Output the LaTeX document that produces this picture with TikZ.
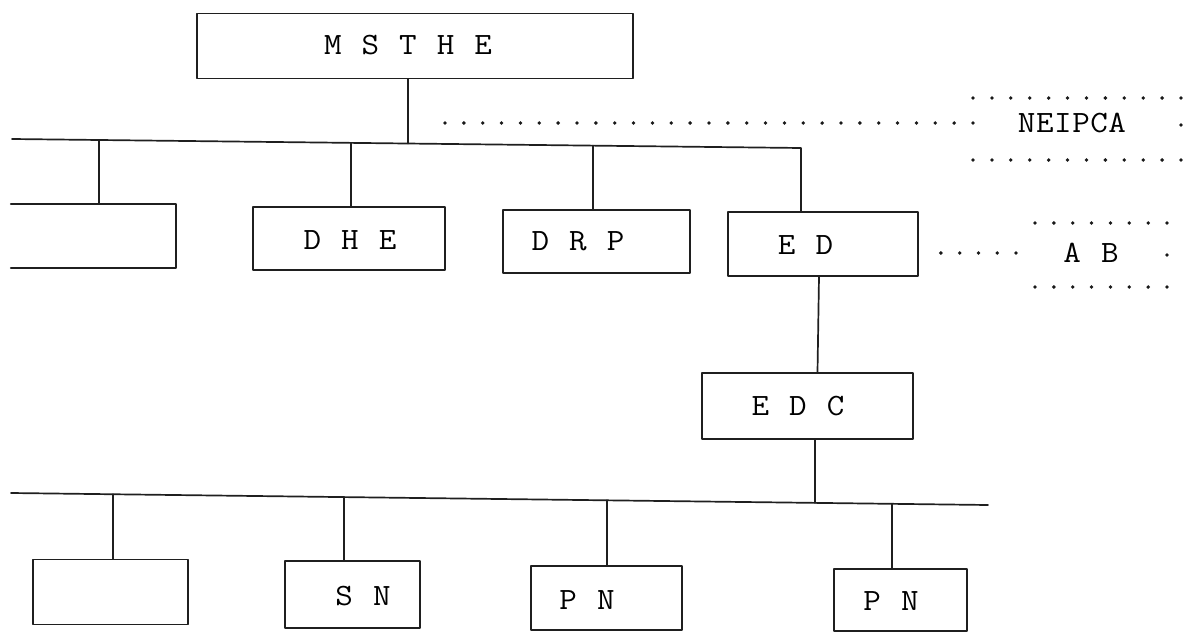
\documentclass[tikz,border=0pt]{standalone}
\usepackage{graphicx}
\usetikzlibrary{calc}

% typewriter lettering: Latin Modern Mono, widened a little
\newcommand\tw[1]{\scalebox{1.1}[1]{\ttfamily\fontsize{31}{33}\selectfont #1}}
\newcommand\xg{\hspace{18.2pt}}   % gap between spaced letters
\newcommand\nk{\kern0.5pt}        % tracking for solid words

\tikzset{
  ink/.style={line width=1.7pt, draw=black!88, line cap=round, line join=round},
  frame/.style={ink, rectangle, inner sep=0pt},
  blank/.style={rectangle, inner sep=0pt, draw=none},
  tag/.style={inner sep=0pt, text=black},
  dotrow/.style={draw=black!90, line width=3.8pt, line cap=round,
                 dash pattern=on 0pt off #1},
  dot/.style={fill=black!90},
}

\begin{document}
\begin{tikzpicture}[x=1pt, y=-1pt]
\useasboundingbox (0,0) rectangle (1192,632);

% ---- top of the tree
\node[frame, minimum width=436pt, minimum height=65pt] (msthe) at (415,46) {};
\node[tag] (msthe-t) at (408,45) {\tw{M\xg S\xg T\xg H\xg E}};

% ---- first level
\node[blank, minimum width=165pt, minimum height=64pt] (b0) at (93.5,236) {};
\draw[ink] (b0.north west) -- (b0.north east) -- (b0.south east) -- (b0.south west);

\node[frame, minimum width=192pt, minimum height=63pt] (dhe) at (349,238.5) {};
\node[tag] (dhe-t) at (350,240) {\tw{D\xg H\xg E}};

\node[frame, minimum width=187pt, minimum height=63pt] (drp) at (596.5,241.5) {};
\node[tag] (drp-t) at (578,241) {\tw{D\xg R\xg P}};

\node[frame, minimum width=190pt, minimum height=64pt] (ed) at (823,244) {};
\node[tag] (ed-t) at (805.5,245) {\tw{E\xg D}};

% ---- second level
\node[frame, minimum width=211pt, minimum height=66pt] (edc) at (807.5,406) {};
\node[tag] (edc-t) at (798,406) {\tw{E\xg D\xg C}};

% ---- third level
\node[frame, minimum width=155pt, minimum height=65pt] (b1) at (110.5,592) {};

\node[frame, minimum width=135pt, minimum height=67pt] (sn) at (352.5,594.5) {};
\node[tag] (sn-t) at (363,596) {\tw{S\xg N}};

\node[frame, minimum width=151pt, minimum height=64pt] (pn1) at (606.5,598) {};
\node[tag] (pn1-t) at (587,600) {\tw{P\xg N}};

\node[frame, minimum width=133pt, minimum height=62pt] (pn2) at (900.5,600) {};
\node[tag] (pn2-t) at (891,601) {\tw{P\xg N}};

% ---- upper bus
\coordinate (busA-l) at (12,139);
\coordinate (busA-r) at (801,148);
\path (busA-l) -- (busA-r)
  coordinate[pos=0.110]  (a1)
  coordinate[pos=0.4297] (a2)
  coordinate[pos=0.502]  (a0)
  coordinate[pos=0.736]  (a3);
\draw[ink] (busA-l) -- (busA-r) -- (busA-r |- ed.north);
\draw[ink] (msthe.south -| a0) -- (a0);
\draw[ink] (a1) -- (a1 |- b0.north);
\draw[ink] (a2) -- (a2 |- dhe.north);
\draw[ink] (a3) -- (a3 |- drp.north);

% ---- link down to EDC
\draw[ink] ([xshift=-4pt]ed.south) -- ([xshift=10pt]edc.north);

% ---- lower bus
\coordinate (busB-l) at (11,493);
\coordinate (busB-r) at (988,505);
\path (busB-l) -- (busB-r)
  coordinate[pos=0.1044] (c1)
  coordinate[pos=0.3408] (c2)
  coordinate[pos=0.610]  (c3)
  coordinate[pos=0.823]  (c0)
  coordinate[pos=0.9017] (c4);
\draw[ink] (busB-l) -- (busB-r);
\draw[ink] (c0 |- edc.south) -- (c0);
\draw[ink] (c1) -- (c1 |- b1.north);
\draw[ink] (c2) -- (c2 |- sn.north);
\draw[ink] (c3) -- (c3 |- pn1.north);
\draw[ink] (c4) -- (c4 |- pn2.north);

% ---- NEIPCA, dotted leader and dotted frame
\node[tag] (neipca) at (1072,123) {\tw{N\nk E\nk I\nk P\nk C\nk A}};
\coordinate (nl) at (445,123);
\coordinate (nr) at (973.5,123);
\draw[dotrow=18.857pt] (nl) -- (nr);
\draw[dotrow=18.91pt] (973,98) -- (1181.5,98);
\draw[dotrow=18.91pt] (973,160) -- (1181.5,160);
\fill[dot] (1181,125) circle (1.9pt);

% ---- AB, dotted leader from ED and dotted frame
\node[tag] (ab) at (1091,253) {\tw{A\xg B}};
\coordinate (abl) at ([xshift=22pt]ed.east |- ab);
\coordinate (abr) at (1034.5,253);
\draw[dotrow=18.8pt] (abl) -- (abr);
\draw[dotrow=18.857pt] (1035,223) -- (1167.5,223);
\draw[dotrow=18.857pt] (1035,287) -- (1167.5,287);
\fill[dot] (1167,255) circle (1.9pt);
\end{tikzpicture}
\end{document}
